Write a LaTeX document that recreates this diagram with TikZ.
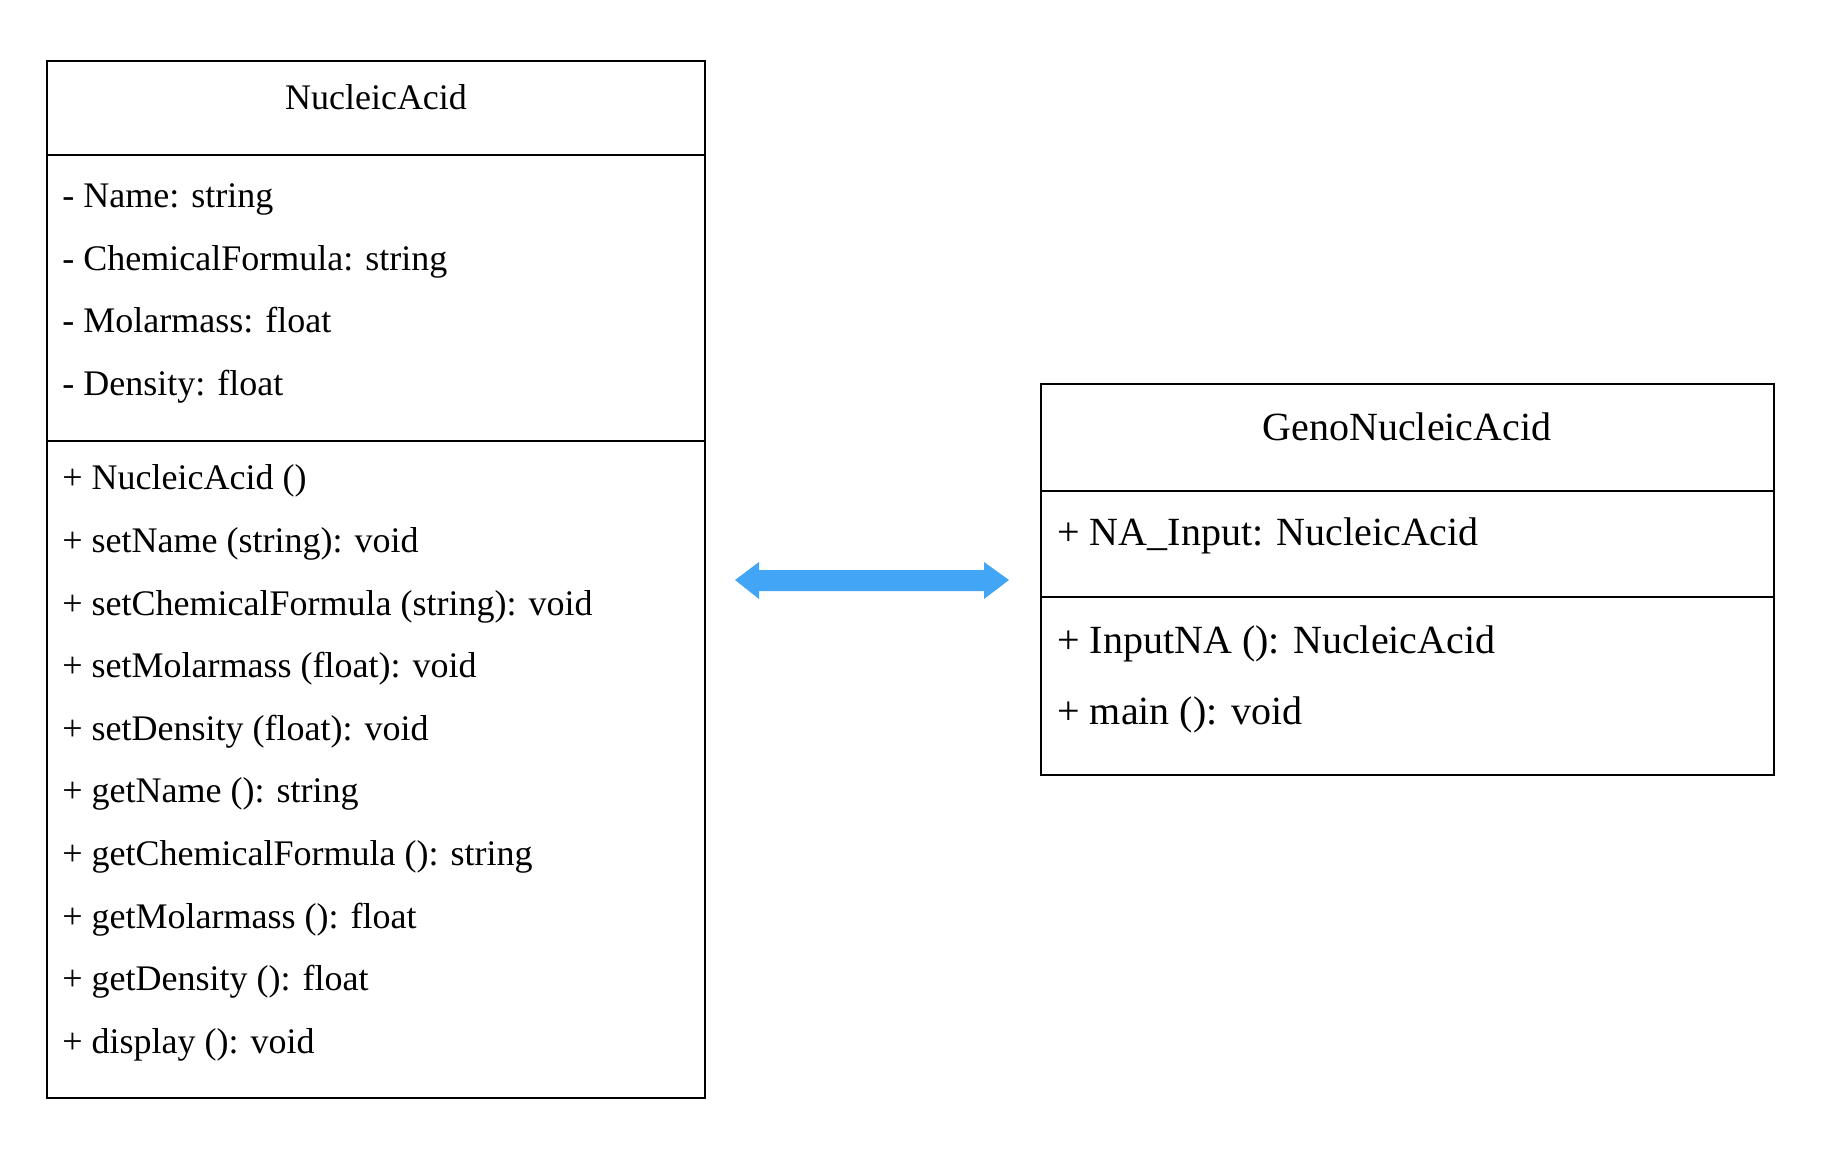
\documentclass[tikz,border=0pt]{standalone}
\usepackage{fontspec}
\setmainfont{Liberation Serif}
\usetikzlibrary{calc}
\definecolor{arrowblue}{HTML}{42A5F5}
\begin{document}
\begin{tikzpicture}[x=0.5pt,y=-0.5pt,
  boxline/.style={draw=black,line width=1.2pt},
  ltext/.style={anchor=west,inner sep=0pt,text height=0.7em,text depth=0.22em,font=\fontsize{18}{20}\selectfont},
  rtext/.style={anchor=west,inner sep=0pt,text height=0.7em,text depth=0.22em,font=\fontsize{20}{22}\selectfont},
  ltitle/.style={inner sep=0pt,text height=0.7em,text depth=0.22em,font=\fontsize{18}{20}\selectfont},
  rtitle/.style={inner sep=0pt,text height=0.7em,text depth=0.22em,font=\fontsize{20}{22}\selectfont}]
\useasboundingbox (0,0) rectangle (1830,1166);
% left class box
\draw[boxline] (47,61) rectangle (705,1098);
\draw[boxline] (47,155) -- (705,155);
\draw[boxline] (47,441) -- (705,441);
\node[ltitle] (naT) at (376,105) {NucleicAcid};
\node[ltext] (a1) at (62,203) {- Name: string};
\node[ltext] (a2) at (62,266) {- ChemicalFormula: string};
\node[ltext] (a3) at (62,328) {- Molarmass: float};
\node[ltext] (a4) at (62,391) {- Density: float};
\node[ltext] (m1) at (62,485) {+ NucleicAcid ()};
\node[ltext] (m2) at (62,548) {+ setName (string): void};
\node[ltext] (m3) at (62,611) {+ setChemicalFormula (string): void};
\node[ltext] (m4) at (62,673) {+ setMolarmass (float): void};
\node[ltext] (m5) at (62,736) {+ setDensity (float): void};
\node[ltext] (m6) at (62,798) {+ getName (): string};
\node[ltext] (m7) at (62,861) {+ getChemicalFormula (): string};
\node[ltext] (m8) at (62,924) {+ getMolarmass (): float};
\node[ltext] (m9) at (62,986) {+ getDensity (): float};
\node[ltext] (m10) at (62,1049) {+ display (): void};
% right class box
\draw[boxline] (1041,384) rectangle (1774,775);
\draw[boxline] (1041,491) -- (1774,491);
\draw[boxline] (1041,597) -- (1774,597);
\node[rtitle] (gT) at (1407,436) {GenoNucleicAcid};
\node[rtext] (g1) at (1057,541) {+ NA\_Input: NucleicAcid};
\node[rtext] (g2) at (1057,649) {+ InputNA (): NucleicAcid};
\node[rtext] (g3) at (1057,720) {+ main (): void};
% double arrow
\coordinate (arrL) at (735,580);
\coordinate (arrR) at (1009,580);
\fill[arrowblue] (arrL) -- ++(24,-18) -- ++(0,8) -- ($(arrR)+(-25,-10)$) -- ++(0,-8) -- (arrR) -- ++(-25,19) -- ++(0,-8) -- ($(arrL)+(24,11)$) -- ++(0,8) -- cycle;
\end{tikzpicture}
\end{document}
